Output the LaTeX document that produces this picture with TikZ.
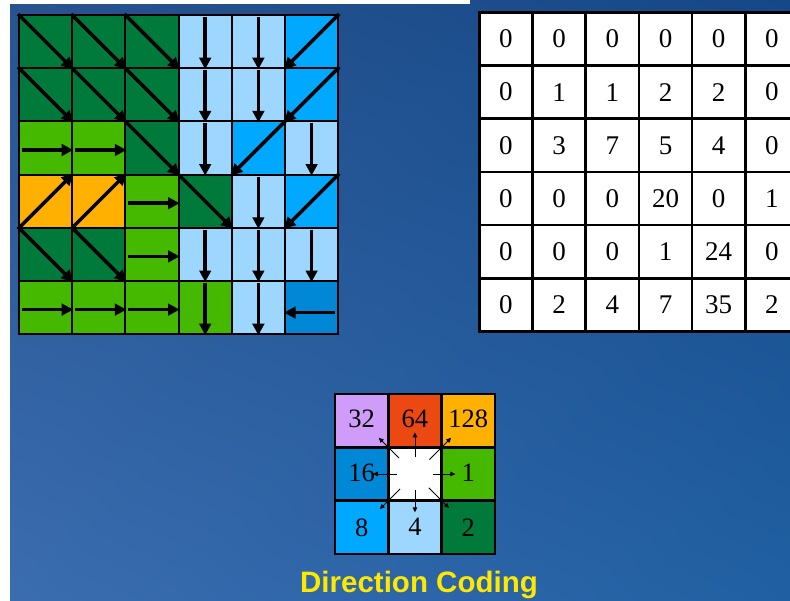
\documentclass[tikz,border=0pt]{standalone}
\usepackage{fontspec}
\setmainfont{Liberation Serif}
\newfontfamily\titlefont{Liberation Sans}
\usepackage{xcolor}
\usetikzlibrary{arrows.meta,calc,shadings}

\definecolor{dkgrn}{HTML}{007A3A}
\definecolor{grn}{HTML}{45B800}
\definecolor{ltblu}{HTML}{9DD6FF}
\definecolor{skyblu}{HTML}{00A9FF}
\definecolor{medblu}{HTML}{0088D6}
\definecolor{orng}{HTML}{FFB000}
\definecolor{redorg}{HTML}{EC4812}
\definecolor{lilac}{HTML}{CF9CFA}
\definecolor{titleyel}{HTML}{FFE800}
\definecolor{bgtl}{HTML}{28538F}
\definecolor{bgtr}{HTML}{154888}
\definecolor{bgbl}{HTML}{3B6DB0}
\definecolor{bgbr}{HTML}{2060A2}

\begin{document}
\begin{tikzpicture}[x=1pt,y=-1pt,
  cellbox/.style={draw=black, line width=2pt, minimum size=53.2pt, inner sep=0pt},
  numbox/.style={cellbox, fill=white, line width=2.5pt, font=\fontsize{27}{32}\selectfont},
  dirbox/.style={cellbox, line width=2.4pt, font=\fontsize{26.5}{30}\selectfont},
  flowarrow/.style={line width=3.5pt, -{Triangle[length=11.5pt,width=11.5pt]}},
  dirarrow/.style={line width=0.9pt, -{Triangle[length=5pt,width=4.5pt]}}]
  \def\s{53.2}

  % Page and background.
  \useasboundingbox (0,0) rectangle (790,600);
  \clip (0,0) rectangle (790,600);
  \shade[upper left=bgtl, upper right=bgtr, lower left=bgbl, lower right=bgbr]
    (-2,-2) rectangle (792,602);
  \fill[white] (-2,-2) rectangle (10,602);
  \fill[white] (-2,-2) rectangle (470,4);

  % Flow direction grid.
  \foreach \row [count=\r] in {
      {dkgrn,dkgrn,dkgrn,ltblu,ltblu,skyblu},
      {dkgrn,dkgrn,dkgrn,ltblu,ltblu,skyblu},
      {grn,grn,dkgrn,ltblu,skyblu,ltblu},
      {orng,orng,grn,dkgrn,ltblu,skyblu},
      {dkgrn,dkgrn,grn,ltblu,ltblu,ltblu},
      {grn,grn,grn,grn,ltblu,medblu}}{
    \foreach \col [count=\c] in \row {
      \node[cellbox, fill=\col] (g-\r-\c) at ({19+\s*(\c-0.5)},{15+\s*(\r-0.5)}) {};
    }
  }

  % Arrows in the grid.
  \foreach \r/\c in {1/1,1/2,1/3,2/1,2/2,2/3,3/3,4/4,5/1,5/2}{
    \draw[flowarrow] (g-\r-\c.north west) -- (g-\r-\c.south east);
  }
  \foreach \r/\c in {1/4,1/5,2/4,2/5,3/4,3/6,4/5,5/4,5/5,5/6,6/4,6/5}{
    \draw[flowarrow] ([yshift=-3pt]g-\r-\c.north) -- (g-\r-\c.south);
  }
  \foreach \r/\c in {1/6,2/6,3/5,4/6}{
    \draw[flowarrow] (g-\r-\c.north east) -- (g-\r-\c.south west);
  }
  \foreach \r/\c in {3/1,3/2,4/3,5/3,6/1,6/2,6/3}{
    \draw[flowarrow] ([xshift=4pt,yshift=-2pt]g-\r-\c.west) -- ([yshift=-2pt]g-\r-\c.east);
  }
  \foreach \r/\c in {4/1,4/2}{
    \draw[flowarrow] (g-\r-\c.south west) -- (g-\r-\c.north east);
  }
  \draw[flowarrow] ([xshift=-4pt,yshift=-5pt]g-6-6.east) -- ([yshift=-5pt]g-6-6.west);

  % Flow accumulation table.
  \foreach \row [count=\r] in {
      {0,0,0,0,0,0},
      {0,1,1,2,2,0},
      {0,3,7,5,4,0},
      {0,0,0,20,0,1},
      {0,0,0,1,24,0},
      {0,2,4,7,35,2}}{
    \foreach \v [count=\c] in \row {
      \node[numbox] (t-\r-\c) at ({479.3+\s*(\c-0.5)},{12.3+\s*(\r-0.5)}) {\v};
    }
  }

  % Direction coding key.
  \foreach \r/\c/\col/\v/\dy in {1/1/lilac/32/3,1/2/redorg/64/3,1/3/orng/128/3,
      2/1/medblu/16/3,2/2/white//0,2/3/grn/1/3,
      3/1/skyblu/8/0,3/2/ltblu/4/0,3/3/dkgrn/2/0}{
    \node[dirbox, fill=\col, minimum size=53.3pt, text depth=\dy pt] (d-\r-\c)
      at ({335+53.3*(\c-0.5)},{394+53.3*(\r-0.5)}) {\v};
  }
  \foreach \r/\c/\a/\b in {1/2/0.32/0.78,2/3/0.34/0.76,2/1/0.34/0.79,3/2/0.3/0.72,
      1/1/0.3/0.68,1/3/0.27/0.68,3/1/0.28/0.66,3/3/0.26/0.64}{
    \draw[dirarrow] ($(d-2-2.center)!\a!(d-\r-\c.center)$)
      -- ($(d-2-2.center)!\b!(d-\r-\c.center)$);
  }

  \node[font=\titlefont\bfseries\fontsize{29.5}{34}\selectfont, text=titleyel,
    anchor=base] (title) at (419,592) {Direction Coding};
\end{tikzpicture}
\end{document}
